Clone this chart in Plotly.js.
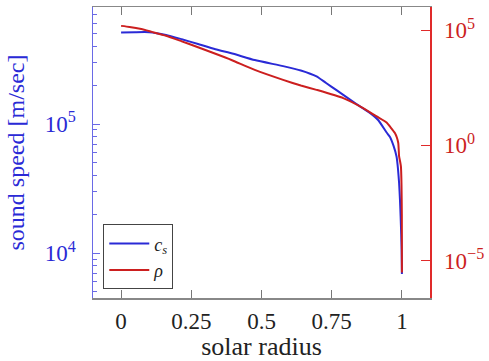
<!DOCTYPE html>
<html>
<head>
<meta charset="utf-8">
<script src="https://cdn.plot.ly/plotly-3.0.1.min.js"></script>
<style>html,body{margin:0;padding:0;background:#fff;}#chart{width:489px;height:361px;}</style>
</head>
<body>
<div id="chart"></div>
<script>
// solar radius (fraction of R_sun)
var radiusCs = [0.0, 0.05, 0.1, 0.16, 0.216, 0.274, 0.336, 0.40, 0.476, 0.577, 0.64, 0.696, 0.73, 0.767, 0.80, 0.838, 0.886, 0.916, 0.9455, 0.957, 0.97, 0.981, 0.986, 0.990, 0.993, 0.9954, 0.9975, 0.9989, 1.0];
var soundSpeed = [5.12e5, 5.15e5, 5.15e5, 4.9e5, 4.54e5, 4.17e5, 3.80e5, 3.5e5, 3.13e5, 2.81e5, 2.6e5, 2.34e5, 2.08e5, 1.83e5, 1.63e5, 1.43e5, 1.22e5, 1.07e5, 8.6e4, 7.98e4, 6.8e4, 5.58e4, 4.5e4, 3.48e4, 2.6e4, 1.92e4, 1.4e4, 1.06e4, 6.9e3];

var radiusRho = [0.0, 0.03, 0.072, 0.11, 0.16, 0.216, 0.274, 0.336, 0.393, 0.476, 0.577, 0.64, 0.696, 0.791, 0.862, 0.91, 0.9455, 0.957, 0.975, 0.982, 0.987, 0.990, 0.9935, 0.9964, 0.9985, 0.9997, 1.0];
var density = [1.55e5, 1.4e5, 1.13e5, 8.5e4, 5.78e4, 3.3e4, 1.82e4, 9.5e3, 5.13e3, 1.89e3, 6.98e2, 4.0e2, 2.58e2, 1.13e2, 41.6, 18, 9.9, 6.65, 3.44, 2.2, 1.27, 0.334, 0.2, 0.123, 0.02, 1e-3, 3e-6];

var xTickVals = [0, 0.25, 0.5, 0.75, 1];
var xTickText = ['0', '0.25', '0.5', '0.75', '1'];
var y1TickVals = [1e4, 1e5];
var y1TickText = ['10<sup>4</sup>', '10<sup>5</sup>'];
var y1MinorVals = [4000, 5000, 6000, 7000, 8000, 9000, 20000, 30000, 40000, 50000, 60000, 70000, 80000, 90000, 200000, 300000, 400000, 500000, 600000, 700000, 800000, 900000];
var y2TickVals = [1e-5, 1, 1e5];
var y2TickText = ['10<sup>\u22125</sup>', '10<sup>0</sup>', '10<sup>5</sup>'];

var FONT = 'Liberation Serif';
var BLUE = '#2a2ad6';
var BLUE_AX = '#6a6ae6';
var RED = '#cc1f1f';
var RED_AX = '#e02a2a';

var traces = [
  {x: radiusCs, y: soundSpeed, type: 'scatter', mode: 'lines', name: '<i>c<sub>s</sub></i>',
   line: {color: BLUE, width: 2, shape: 'spline', smoothing: 0.5}, yaxis: 'y'},
  {x: radiusRho, y: density, type: 'scatter', mode: 'lines', name: '<i>\u03c1</i>',
   line: {color: RED, width: 2, shape: 'spline', smoothing: 0.5}, yaxis: 'y2'}
];

var layout = {
  width: 489, height: 361,
  margin: {l: 93, r: 59, t: 7, b: 63},
  paper_bgcolor: '#fff', plot_bgcolor: '#fff',
  font: {family: FONT, size: 23, color: '#222'},
  showlegend: true,
  legend: {x: 0.0305, y: 0.0295, xanchor: 'left', yanchor: 'bottom',
    bordercolor: '#444', borderwidth: 1, bgcolor: '#fff',
    font: {family: FONT, size: 18, color: '#222'}, tracegroupgap: 0, itemwidth: 40},
  xaxis: {
    range: [-0.1, 1.1], tickmode: 'array', tickvals: xTickVals, ticktext: xTickText,
    ticks: 'inside', ticklen: 8, tickcolor: '#777', tickwidth: 1,
    showline: true, linecolor: '#888', linewidth: 1.5, mirror: 'ticks',
    showgrid: false, zeroline: false, ticklabelstandoff: 2,
    tickfont: {family: FONT, size: 23, color: '#222'},
    title: {text: 'solar radius', font: {family: FONT, size: 26, color: '#222'}, standoff: 8}
  },
  yaxis: {
    type: 'log', range: [Math.log10(4490), Math.log10(8.07e5)],
    tickmode: 'array', tickvals: y1TickVals, ticktext: y1TickText,
    ticks: 'inside', ticklen: 7, tickcolor: BLUE_AX, tickwidth: 1,
    minor: {tickmode: 'array', tickvals: y1MinorVals, ticks: 'inside', ticklen: 4, tickcolor: BLUE_AX, tickwidth: 1, showgrid: false},
    showline: true, linecolor: BLUE_AX, linewidth: 1.5,
    showgrid: false, zeroline: false, ticklabelstandoff: 11,
    tickfont: {family: FONT, size: 23, color: BLUE},
    title: {text: 'sound speed [m/sec]', font: {family: FONT, size: 24, color: BLUE}, standoff: 13}
  },
  yaxis2: {
    type: 'log', range: [-6.63, 6.01], overlaying: 'y', side: 'right',
    tickmode: 'array', tickvals: y2TickVals, ticktext: y2TickText,
    ticks: 'inside', ticklen: 9, tickcolor: RED_AX, tickwidth: 1,
    showline: true, linecolor: RED_AX, linewidth: 1.5,
    showgrid: false, zeroline: false, ticklabelstandoff: 8,
    tickfont: {family: FONT, size: 23, color: RED}
  }
};

Plotly.newPlot('chart', traces, layout, {staticPlot: true, displayModeBar: false});
</script>
</body>
</html>
